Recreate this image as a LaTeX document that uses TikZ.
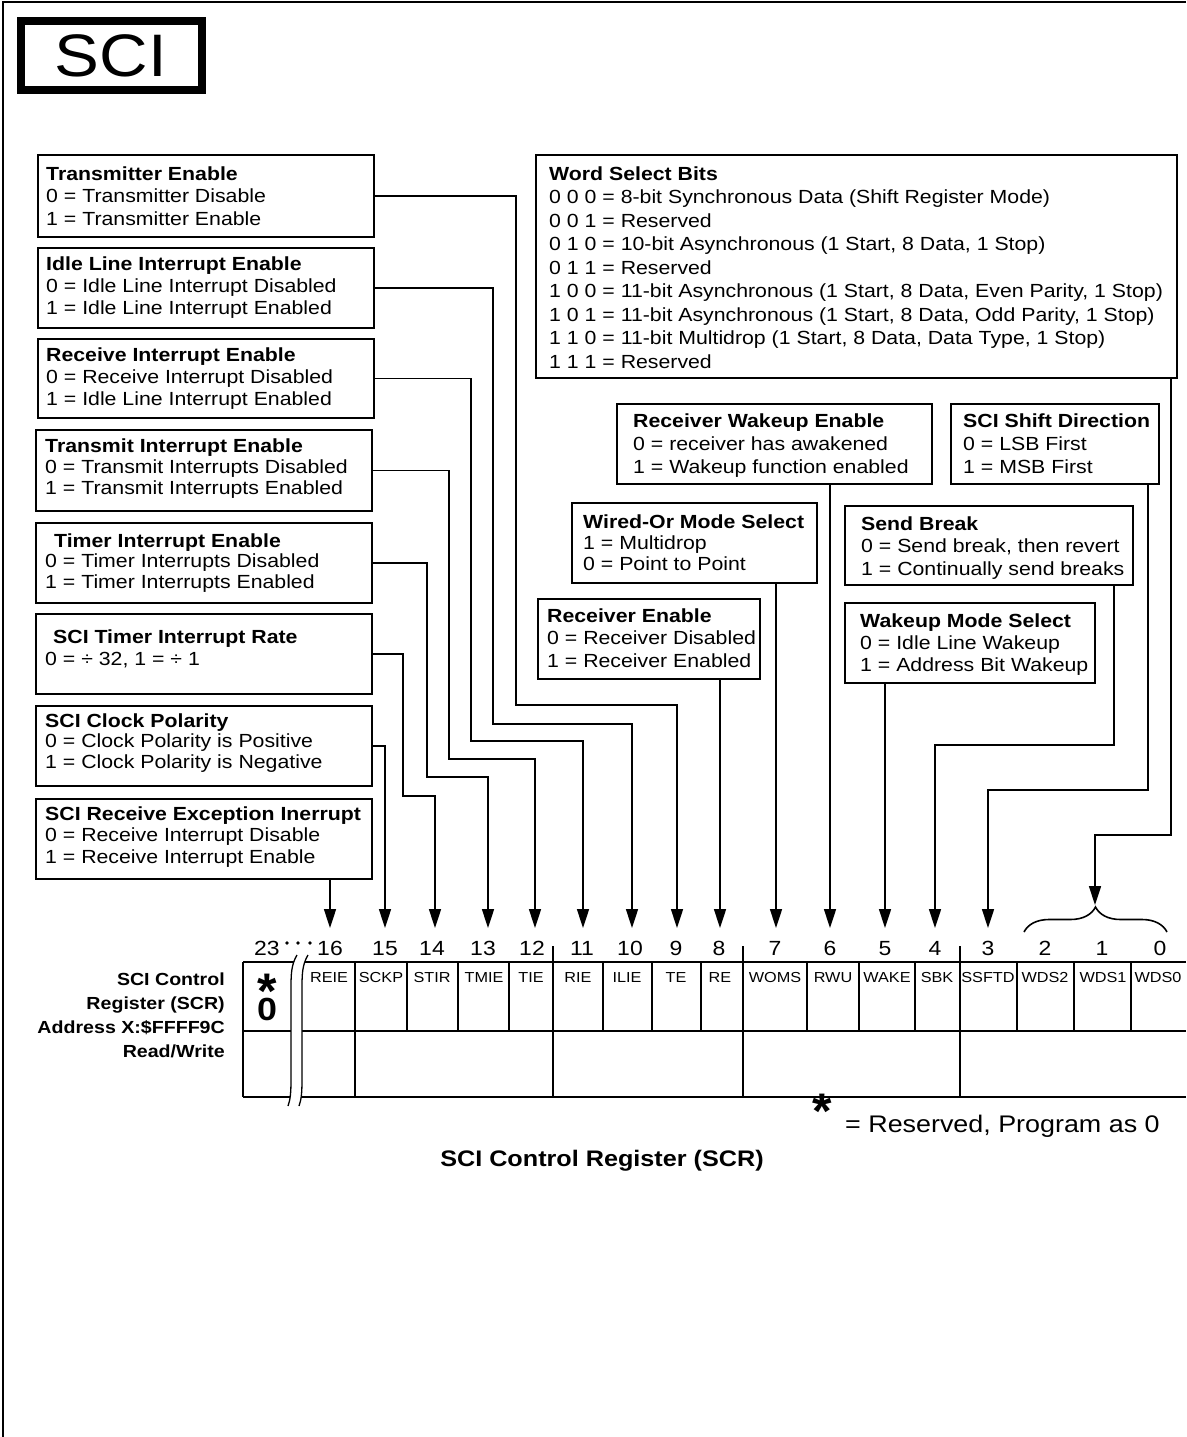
\documentclass[tikz,border=0pt]{standalone}
\usepackage{fontspec}
\setmainfont{Liberation Sans}[FakeStretch=1.12]
\newfontfamily\plainsans{Liberation Sans}
\usetikzlibrary{arrows.meta,decorations.pathreplacing}

\tikzset{
  infobox/.style={draw, line width=1.6pt, inner sep=0pt, outer sep=0pt},
  conn/.style={line width=1.6pt},
  arr/.style={line width=1.6pt, -{Triangle[length=19pt,width=12pt]}},
  reg/.style={line width=2pt},
  bitnum/.style={anchor=base, inner sep=0pt, font=\fontsize{20.5}{20.5}\selectfont},
  cellname/.style={anchor=base, inner sep=0pt, font=\fontsize{14.5}{14.5}\selectfont},
  star/.style={anchor=base, inner sep=0pt, font=\plainsans\bfseries\fontsize{50}{50}\selectfont},
}

\newcommand\infobox[9]{%
  \node[infobox, anchor=north west, minimum width={#4pt-#2pt}, minimum height={#5pt-#3pt}] (#1) at (#2,#3) {};
  \node[anchor=base west, inner sep=0pt] (#1-text) at (#6,#7)
    {\parbox[t]{700pt}{\raggedright\fontsize{19}{#9}\selectfont #8}};
}
\newcommand\starglyph{\raisebox{-19pt}[17pt][0pt]{*}}

\begin{document}
\begin{tikzpicture}[x=1pt,y=-1pt]
\useasboundingbox (0,0) rectangle (1186,1437);

% outer frame
\draw[line width=2pt] (3,1437) -- (3,2) -- (1186,2);

% SCI title
\node[draw, line width=8pt, inner sep=0pt, outer sep=0pt, anchor=north west,
      minimum width=181pt, minimum height=69pt] (sci) at (21,21) {};
\node[anchor=base, inner sep=0pt, font=\fontsize{60}{60}\selectfont] (scitext) at (111,77) {SCI};

% left boxes
\infobox{te}{38}{155}{374}{237}{46}{180}{\textbf{Transmitter Enable}\\0 = Transmitter Disable\\1 = Transmitter Enable}{22.5}
\infobox{ilie}{38}{248}{374}{328}{46}{270}{\textbf{Idle Line Interrupt Enable}\\0 = Idle Line Interrupt Disabled\\1 = Idle Line Interrupt Enabled}{22}
\infobox{rie}{38}{339}{374}{418}{46}{361}{\textbf{Receive Interrupt Enable}\\0 = Receive Interrupt Disabled\\1 = Idle Line Interrupt Enabled}{22}
\infobox{tie}{36}{430}{372}{511}{45}{452}{\textbf{Transmit Interrupt Enable}\\0 = Transmit Interrupts Disabled\\1 = Transmit Interrupts Enabled}{21}
\infobox{tmie}{36}{523}{372}{603}{45}{547}{\hspace*{9pt}\textbf{Timer Interrupt Enable}\\0 = Timer Interrupts Disabled\\1 = Timer Interrupts Enabled}{20.5}
\infobox{stir}{36}{614}{372}{694}{45}{643}{\hspace*{8pt}\textbf{SCI Timer Interrupt Rate}\\0 = \char"00F7\ 32, 1 = \char"00F7\ 1}{22}
\infobox{sckp}{36}{706}{372}{786}{45}{727}{\textbf{SCI Clock Polarity}\\0 = Clock Polarity is Positive\\1 = Clock Polarity is Negative}{20.5}
\infobox{reie}{36}{799}{372}{879}{45}{820}{\textbf{SCI Receive Exception Inerrupt}\\0 = Receive Interrupt Disable\\1 = Receive Interrupt Enable}{21.5}

% right boxes
\infobox{ws}{536}{155}{1177}{378}{549}{180}{\textbf{Word Select Bits}\\0 0 0 = 8-bit Synchronous Data (Shift Register Mode)\\0 0 1 = Reserved\\0 1 0 = 10-bit Asynchronous (1 Start, 8 Data, 1 Stop)\\0 1 1 = Reserved\\1 0 0 = 11-bit Asynchronous (1 Start, 8 Data, Even Parity, 1 Stop)\\1 0 1 = 11-bit Asynchronous (1 Start, 8 Data, Odd Parity, 1 Stop)\\1 1 0 = 11-bit Multidrop (1 Start, 8 Data, Data Type, 1 Stop)\\1 1 1 = Reserved}{23.5}
\infobox{rwe}{617}{404}{932}{484}{633}{427}{\textbf{Receiver Wakeup Enable}\\0 = receiver has awakened\\1 = Wakeup function enabled}{23}
\infobox{ssd}{951}{404}{1159}{484}{963}{427}{\textbf{SCI Shift Direction}\\0 = LSB First\\1 = MSB First}{23}
\infobox{wom}{572}{503}{817}{583}{583}{528}{\textbf{Wired-Or Mode Select}\\1 = Multidrop\\0 = Point to Point}{21}
\infobox{sb}{845}{506}{1133}{585}{861}{530}{\textbf{Send Break}\\0 = Send break, then revert\\1 = Continually send breaks}{22.5}
\infobox{rebox}{538}{599}{760}{679}{547}{622}{\textbf{Receiver Enable}\\0 = Receiver Disabled\\1 = Receiver Enabled}{22.5}
\infobox{wms}{845}{603}{1095}{683}{860}{627}{\textbf{Wakeup Mode Select}\\0 = Idle Line Wakeup\\1 = Address Bit Wakeup}{22}

% arrow targets
\foreach \n/\x in {16/330,15/385,14/435,13/488,12/535,11/583,10/632,9/677,8/720,7/776,6/830,5/885,4/935,3/988}
  \coordinate (b\n) at (\x,928);
\coordinate (brtip) at (1095,905);

% connectors, left side
\draw[arr] (te.east) -| (516,705) -| (b9);
\draw[arr] (ilie.east) -| (493,724) -| (b10);
\draw[arr] (rie.east) -| (471,741) -| (b11);
\draw[arr] (tie.east) -| (449,759) -| (b12);
\draw[arr] (tmie.east) -| (427,777) -| (b13);
\draw[arr] (stir.east) -| (403,796) -| (b14);
\draw[arr] (sckp.east) -| (b15);
\draw[arr] (reie.south -| b16) -- (b16);

% connectors, right side
\draw[arr] (rebox.south -| b8) -- (b8);
\draw[arr] (wom.south -| b7) -- (b7);
\draw[arr] (rwe.south -| b6) -- (b6);
\draw[arr] (wms.south -| b5) -- (b5);
\draw[arr] (sb.south -| 1114,0) -- (1114,745) -| (b4);
\draw[arr] (ssd.south -| 1148,0) -- (1148,790) -| (b3);
\draw[arr] (ws.south -| 1171,0) -- (1171,835) -| (brtip);

% brace over bits 2..0
\draw[line width=1.6pt, decorate, decoration={brace, amplitude=25pt}] (1024,932) -- (1167,932);

% bit numbers
\foreach \n/\x in {23/267,16/330,15/385,14/432,13/483,12/532,11/582,10/630,9/676,8/719,7/775,6/830,5/885,4/935,3/988,2/1045,1/1102,0/1160}
  \node[bitnum] (n\n) at (\x,955) {\n};
\foreach \x in {287,298,310} \fill (\x,943) circle (1.8pt);

% register lines
\draw[reg] (243,962) -- (1186,962);
\draw[reg] (243,1031) -- (1186,1031);
\draw[reg] (243,1097) -- (1186,1097);
\draw[reg] (243,962) -- (243,1097);
\foreach \x in {355,407,458,509,553,603,652,701,743,807,859,915,960,1017,1074,1131}
  \draw[reg] (\x,962) -- (\x,1031);
\foreach \x in {355,553,743,960}
  \draw[reg] (\x,1031) -- (\x,1097);
\foreach \x in {553,743,960}
  \draw[reg] (\x,946) -- (\x,962);

% cell names
\foreach \lab/\x in {REIE/329,SCKP/381,STIR/432,TMIE/484,TIE/531,RIE/578,ILIE/627,TE/676,RE/720,WOMS/775,RWU/833,WAKE/887,SBK/937,SSFTD/988,WDS2/1045,WDS1/1103,WDS0/1158}
  \node[cellname] (c\lab) at (\x,982) {\lab};

% break marks
\fill[white] (297,955) .. controls (291,965) and (291,975) .. (291,990) -- (291,1080)
  .. controls (291,1095) and (290,1100) .. (288,1106) -- (299,1106)
  .. controls (301,1100) and (302,1095) .. (302,1080) -- (302,990)
  .. controls (302,975) and (302,965) .. (308,955) -- cycle;
\draw[line width=1.3pt] (297,955) .. controls (291,965) and (291,975) .. (291,990) -- (291,1080)
  .. controls (291,1095) and (290,1100) .. (288,1106);
\draw[line width=1.3pt] (308,955) .. controls (302,965) and (302,975) .. (302,990) -- (302,1080)
  .. controls (302,1095) and (301,1100) .. (299,1106);

% reserved cell
\node[star] (rsvast) at (267,989) {\starglyph};
\node[anchor=base, inner sep=0pt, font=\bfseries\fontsize{32}{32}\selectfont] (rsvzero) at (267,1020) {0};

% register label
\node[anchor=base east, inner sep=0pt] (reglabel) at (225,985)
  {\parbox[t]{260pt}{\raggedleft\bfseries\fontsize{17.5}{24}\selectfont SCI Control\\Register (SCR)\\Address X:\$FFFF9C\\Read/Write}};

% legend
\node[star] (legast) at (822,1109) {\starglyph};
\node[anchor=base west, inner sep=0pt, font=\fontsize{24}{24}\selectfont] (legtext) at (845,1132) {= Reserved, Program as 0};

% caption
\node[anchor=base, inner sep=0pt, font=\bfseries\fontsize{22.5}{22.5}\selectfont] (caption) at (602,1166) {SCI Control Register (SCR)};

\end{tikzpicture}
\end{document}
